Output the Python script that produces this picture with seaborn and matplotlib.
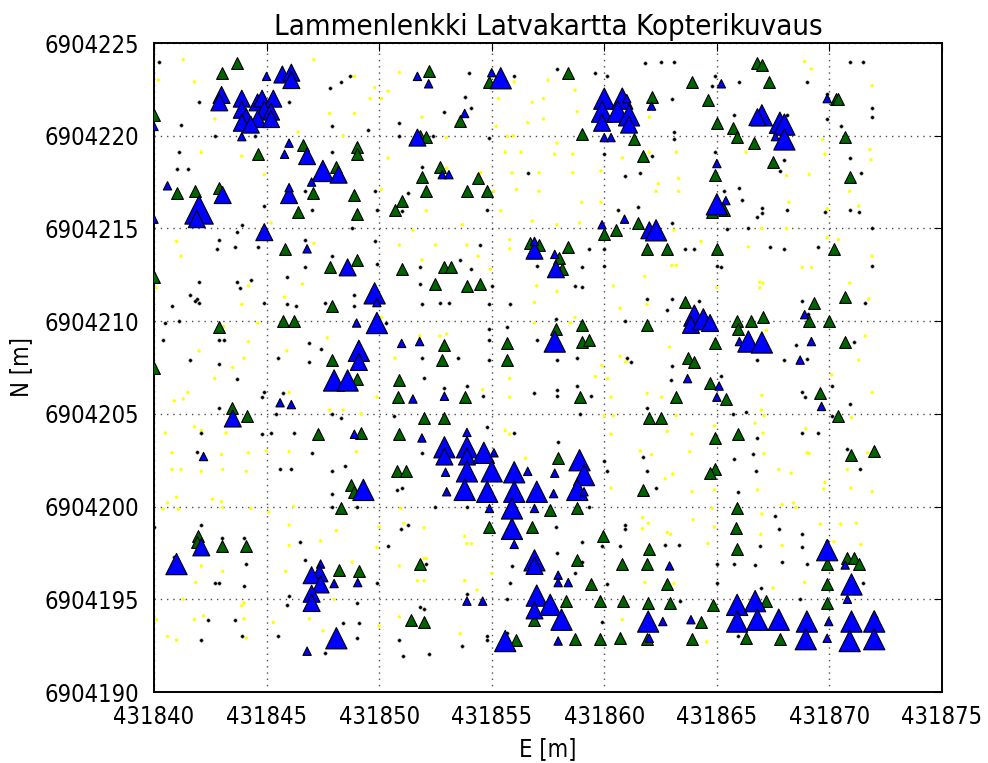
import numpy as np
import pandas as pd
import matplotlib
matplotlib.use("Agg")
import matplotlib.pyplot as plt
import matplotlib.font_manager as fm
import seaborn as sns

# ---------------- data (local offsets from the map origin) ----------------
E0 = 431840
N0 = 6904190

title = "Lammenlenkki Latvakartta Kopterikuvaus"
xlabel = "E [m]"
ylabel = "N [m]"
xticks = [431840, 431845, 431850, 431855, 431860, 431865, 431870, 431875]
yticks = [6904190, 6904195, 6904200, 6904205, 6904210, 6904215, 6904220, 6904225]

# green triangles (E offset, N offset)
green_pts = [
    (3.7,33.9),(3.0,33.4),(0.0,31.1),(4.6,29.0),(6.6,29.5),(8.1,28.3),(1.0,26.9),(1.8,27.0),(2.9,27.2),(7.05,26.9),
    (6.4,25.9),(5.8,23.9),(7.8,22.9),(0.0,22.4),(7.9,20.8),(5.75,20.0),(6.2,20.0),(2.9,19.7),(0.0,17.5),(7.9,17.9),
    (12.2,33.5),(14.9,32.9),(13.6,30.8),(11.8,30.0),(12.1,29.95),(9.0,29.4),(9.0,29.0),(12.7,28.3),(11.9,27.8),(14.4,27.7),
    (12.1,27.0),(13.9,27.0),(14.8,27.0),(8.9,26.8),(11.0,26.5),(10.7,26.0),(9.0,25.8),(16.7,24.2),(17.1,24.1),(9.0,23.3),
    (11.0,22.8),(12.9,22.9),(13.2,22.9),(12.5,22.0),(13.9,21.9),(14.5,22.0),(12.9,18.7),(12.8,17.9),(15.7,18.8),(15.7,17.9),
    (18.4,33.4),(23.9,32.9),(24.6,31.9),(22.1,32.1),(19.0,30.1),(21.3,29.8),(25.0,30.7),(25.7,30.4),(25.9,29.95),(21.7,28.9),
    (24.9,27.9),(24.8,25.9),(25.3,26.0),(21.5,25.3),(20.5,24.9),(20.0,24.7),(18.4,24.0),(21.9,23.9),(22.8,23.9),(25.0,23.9),
    (18.0,23.4),(18.1,22.8),(23.6,21.05),(19.0,19.8),(21.9,19.8),(17.85,19.6),(19.0,18.9),(19.3,19.0),(24.9,18.8),(25.9,20.0),
    (25.95,19.6),(23.7,18.0),(24.0,17.8),
    (26.8,33.9),(27.0,33.8),(27.3,32.9),(30.3,32.0),(30.4,32.0),(26.65,29.6),(30.7,29.95),(27.5,28.6),(30.9,27.8),(30.2,23.9),
    (29.3,21.0),(30.7,21.3),(26.5,20.0),(27.05,20.2),(29.1,20.0),(30.0,20.0),(30.7,18.85),
    (3.45,15.3),(4.15,14.9),(7.3,13.9),(1.97,8.4),(1.9,8.1),(3.0,7.9),(4.1,7.9),(8.2,6.6),(8.3,9.9),
    (9.0,16.9),(10.9,16.8),(10.85,15.9),(13.8,15.9),(12.0,14.8),(12.9,14.8),(9.2,13.96),(10.9,13.9),(10.8,11.9),(11.2,11.9),
    (8.75,11.15),(8.9,10.8),(14.9,8.9),(16.8,8.9),(9.1,6.5),(11.8,6.9),(11.4,3.9),(12.0,3.8),(16.1,2.8),(16.9,3.9),
    (24.7,16.65),(25.4,15.8),(23.2,15.9),(18.9,15.9),(22.0,14.8),(22.5,14.8),(24.9,13.7),(25.95,13.9),(17.95,12.6),(24.9,12.05),
    (24.7,11.8),(21.7,10.9),(17.6,9.8),(18.8,9.9),(25.9,9.9),(25.85,8.85),(25.9,7.7),(19.95,8.4),(22.0,7.7),(18.8,7.1),
    (20.8,6.9),(21.9,6.9),(19.4,5.8),(22.8,5.8),(18.3,4.9),(19.8,4.9),(20.85,4.9),(21.95,4.8),(22.9,4.8),(24.85,4.7),
    (24.3,3.8),(18.7,2.85),(19.8,2.85),(20.7,2.9),(21.9,2.85),(23.9,2.85),
    (29.6,16.1),(30.4,14.9),(30.95,12.8),(31.99,13.0),(30.8,7.2),(31.1,7.2),(31.3,6.9),(29.9,6.9),(29.9,5.8),(29.9,4.8),
    (27.2,4.9),(26.3,2.9),(27.8,2.85),
]

# blue triangles (E offset, N offset, crown size class 1..4)
blue_pts = [
    (0.0,30.5,1),(5.0,33.2,1),(5.7,33.3,2),(6.1,33.4,2),(6.1,33.0,2),(3.0,32.2,2),(2.9,31.8,2),(3.9,32.0,2),(3.9,31.4,2),(4.1,31.0,2),
    (4.6,31.8,2),(4.8,32.0,2),(5.3,32.0,2),(4.9,31.4,2),(5.2,31.3,2),(4.6,30.9,2),(5.2,30.9,2),(3.9,30.7,2),(4.3,30.6,2),(3.9,29.95,1),
    (6.0,29.6,1),(5.8,29.0,1),(6.8,28.9,2),(7.5,28.1,3),(8.2,27.9,2),(7.0,27.5,1),(6.0,26.8,2),(6.0,27.2,1),(0.6,27.3,1),(3.05,26.8,2),
    (2.0,26.0,4),(1.9,25.5,2),(0.0,25.5,1),(4.9,24.8,2),(6.8,23.9,1),(8.6,22.9,2),
    (11.7,33.2,1),(12.2,32.8,1),(15.0,33.4,1),(15.4,33.1,3),(13.8,31.2,1),(11.7,29.9,2),(12.8,27.9,1),(13.1,27.9,1),(16.9,23.8,2),(16.9,24.3,1),
    (9.8,21.5,3),(9.9,21.0,1),(9.9,19.9,3),(9.0,19.9,1),(11.0,18.8,1),(11.8,18.9,1),(9.1,18.4,3),(9.1,17.8,2),
    (20.0,32.0,3),(19.9,31.3,3),(19.9,30.7,2),(20.8,32.0,3),(20.6,31.3,3),(21.1,31.1,3),(21.1,30.6,2),(21.0,32.0,1),(22.1,31.6,1),(20.0,29.9,1),
    (20.3,29.9,1),(25.2,32.8,1),(25.0,28.5,1),(25.0,26.3,3),(25.4,26.5,1),(19.9,25.2,1),(20.9,25.5,1),(22.0,24.9,2),(22.3,24.9,3),(17.8,23.6,1),
    (17.85,22.8,2),(24.0,20.3,3),(23.85,19.8,2),(24.4,20.1,3),(24.7,19.9,2),(17.8,18.9,3),(26.0,18.9,1),
    (27.0,31.1,3),(26.8,31.0,2),(27.8,30.7,3),(28.0,30.6,3),(27.6,29.95,1),(28.0,29.8,3),(29.9,32.0,1),(28.9,20.35,1),(26.4,18.9,3),(27.0,18.85,3),
    (29.2,18.9,1),(28.7,17.9,1),
    (3.5,14.75,2),(5.6,15.6,1),(6.1,15.5,1),(2.2,12.7,1),(2.1,7.8,2),(1.0,6.9,3),(7.4,6.9,1),(7.35,6.4,2),(7.0,6.3,2),(7.4,5.8,2),
    (7.0,5.3,2),(8.0,5.85,1),(7.0,4.8,2),(8.1,2.9,3),(6.8,2.2,1),(8.0,16.8,3),(8.6,16.8,3),
    (11.5,15.8,1),(12.9,15.95,1),(8.9,13.9,1),(11.9,13.7,1),(13.9,14.0,1),(12.9,13.2,3),(12.9,12.7,2),(13.9,13.2,3),(13.9,12.7,2),(14.65,12.9,3),
    (15.1,12.9,1),(12.95,11.85,1),(13.9,11.9,3),(15.0,11.9,3),(16.0,11.85,3),(16.6,11.9,1),(13.0,10.8,1),(13.8,10.9,3),(14.8,10.8,3),(16.0,10.8,3),
    (17.0,10.8,3),(9.3,10.9,3),(14.9,9.9,1),(15.9,9.9,3),(16.9,9.9,1),(15.9,8.8,3),(16.0,7.96,1),(16.9,7.1,3),(16.9,6.8,2),(9.05,5.9,1),
    (17.0,5.2,3),(16.9,4.4,2),(13.9,4.9,1),(14.6,4.9,1),(15.6,2.75,3),
    (23.7,16.9,1),(25.1,16.5,1),(25.0,15.9,1),(18.9,12.5,3),(19.1,11.7,3),(18.8,10.9,3),(19.1,10.8,1),(17.8,11.8,1),(17.75,10.7,1),(17.95,6.3,1),
    (17.95,5.9,1),(18.4,5.9,1),(22.9,6.8,1),(17.6,4.7,3),(18.1,3.9,3),(17.95,2.75,1),(21.95,3.8,3),(22.0,2.9,1),(22.6,3.8,1),(23.85,3.9,1),
    (25.9,4.7,3),(25.9,3.8,3),
    (29.65,15.4,1),(29.9,7.65,3),(30.7,6.85,1),(30.98,5.8,3),(30.8,5.0,1),(26.7,4.9,3),(26.8,3.9,3),(27.75,3.9,3),(29.0,3.8,3),(28.95,2.85,3),
    (29.97,3.8,1),(29.9,2.9,1),(30.98,3.8,3),(30.9,2.75,3),(31.99,4.15,1),(31.99,3.8,3),(31.99,2.85,3),
]

# black dots (E offset, N offset)
black_pts = [
    (0.2,34.0),(7.8,32.6),(8.3,32.9),(8.7,33.2),(2.0,31.8),(6.0,31.8),(1.2,30.6),(7.9,30.5),(2.7,30.0),(4.5,30.0),
    (1.1,29.1),(1.0,28.2),(1.5,28.2),(7.9,29.1),(6.7,27.0),(7.0,26.0),(4.9,26.2),(3.9,25.2),(3.7,24.8),(2.9,24.4),
    (2.8,23.9),(3.6,24.0),(4.6,24.0),(6.7,24.4),(7.9,23.5),(6.7,22.9),(5.9,22.4),(2.0,22.1),(3.7,22.1),(4.3,22.2),
    (3.8,21.8),(1.6,21.4),(1.9,21.2),(1.8,21.1),(2.0,21.0),(0.8,20.8),(4.9,21.0),(5.9,20.9),(6.3,20.8),(7.6,21.0),
    (0.5,19.9),(1.1,20.0),(0.4,19.0),(2.9,19.0),(3.1,19.0),(6.9,18.8),(7.4,18.5),(1.6,17.9),(2.9,17.7),(5.5,18.0),(6.9,17.8),
    (14.0,33.4),(16.0,33.2),(13.8,32.1),(14.1,31.5),(12.9,31.3),(10.9,30.7),(9.5,30.3),(10.9,30.0),(12.4,30.0),(14.9,29.9),
    (11.9,28.3),(16.6,28.0),(9.8,27.0),(11.3,26.9),(9.9,26.0),(11.0,25.95),(14.8,26.0),(8.8,25.0),(9.8,24.3),(9.9,23.1),
    (14.5,24.1),(13.6,23.3),(11.8,22.9),(14.1,22.8),(17.0,23.0),(15.0,21.9),(11.8,22.0),(8.9,21.4),(8.9,20.8),(11.9,20.9),
    (12.7,21.0),(13.1,21.0),(14.9,20.9),(15.8,20.9),(10.3,19.9),(15.7,19.7),(14.9,19.6),(17.0,19.0),(14.9,19.0),(11.9,18.0),
    (13.5,18.0),(14.9,17.9),
    (17.9,33.6),(19.6,33.4),(20.1,33.2),(21.8,33.9),(22.5,34.0),(23.1,34.0),(24.9,33.2),(24.8,32.7),(26.0,32.9),(23.0,32.0),
    (25.75,31.1),(23.1,30.2),(23.1,29.8),(20.0,29.0),(22.1,28.9),(24.9,29.1),(20.9,27.85),(21.6,28.0),(25.3,27.0),(26.0,27.2),
    (26.1,26.55),(20.6,26.0),(21.5,26.15),(23.0,25.3),(25.45,24.97),(19.3,23.9),(20.0,23.9),(23.6,23.9),(24.0,23.9),(19.0,22.9),
    (20.0,23.0),(25.0,23.0),(25.2,22.9),(18.7,21.9),(19.0,21.85),(21.9,21.2),(23.0,21.2),(22.8,20.6),(24.2,21.1),(17.85,20.1),
    (20.9,20.0),(17.9,17.9),(18.8,18.0),(21.0,18.0),(21.2,17.8),(23.0,17.6),
    (30.9,34.0),(31.5,34.0),(29.0,32.9),(29.9,32.25),(29.9,30.9),(31.9,31.5),(31.9,31.0),(30.5,30.5),(28.1,31.1),(28.0,28.7),
    (27.8,28.1),(30.9,28.8),(31.4,28.0),(27.0,26.1),(27.0,25.85),(26.8,25.6),(28.1,26.0),(29.8,25.9),(30.9,26.0),(31.3,25.9),
    (26.4,25.0),(31.9,25.0),(27.35,24.0),(28.0,23.9),(29.5,24.0),(31.9,23.0),(28.8,21.1),(31.6,21.0),(29.05,20.4),(28.5,18.7),
    (31.1,18.9),(26.8,17.9),(28.0,17.9),(29.0,17.95),
    (3.7,16.9),(4.9,16.2),(4.8,15.9),(5.75,16.1),(2.9,15.3),(5.4,15.0),(7.9,15.0),(8.3,14.8),(2.1,13.96),(4.8,13.9),
    (5.2,13.96),(6.2,13.96),(1.9,12.96),(7.0,12.9),(5.6,12.0),(6.1,12.0),(7.9,11.9),(7.9,10.7),(8.5,12.2),(7.9,10.0),
    (0.0,8.9),(2.1,9.0),(3.0,8.3),(4.0,8.3),(6.5,8.1),(6.7,7.1),(0.9,7.3),(4.1,6.9),(2.7,5.9),(2.9,5.9),
    (4.0,5.7),(6.0,5.2),(5.9,4.7),(2.4,3.9),(3.6,3.9),(8.4,3.7),(2.1,2.8),(3.9,3.0),(5.5,3.0),(7.6,2.1),
    (12.0,16.95),(12.9,16.4),(13.9,16.5),(14.6,15.95),(16.9,16.1),(10.65,14.9),(14.8,14.3),(16.0,13.96),(11.9,12.9),(10.8,10.9),
    (11.0,11.0),(9.0,10.0),(12.5,10.0),(13.9,10.0),(10.95,8.8),(11.3,9.0),(10.4,7.9),(12.1,6.9),(15.9,6.8),(15.8,5.9),
    (9.9,5.9),(15.7,5.0),(9.0,4.8),(11.8,4.6),(12.0,4.5),(13.9,5.3),(9.1,3.7),(9.0,2.9),(10.9,2.8),(11.05,1.96),
    (12.2,2.05),(13.7,2.5),(14.8,3.0),(14.8,2.8),(15.7,3.2),
    (17.9,16.3),(17.9,15.95),(18.8,16.5),(19.4,15.95),(22.95,16.8),(25.2,17.05),(18.9,15.0),(21.9,15.3),(25.7,15.0),(17.95,13.5),
    (19.97,12.45),(20.1,11.9),(21.7,12.7),(21.9,11.9),(22.3,11.0),(25.75,12.55),(25.95,10.8),(19.3,10.0),(17.85,8.9),(20.9,9.0),
    (20.9,8.8),(19.0,8.1),(19.9,7.9),(20.7,7.9),(22.7,7.95),(23.3,7.95),(17.9,7.5),(19.0,7.0),(18.7,6.4),(25.0,6.9),
    (25.75,6.9),(20.1,5.85),(25.0,5.9),(23.35,4.9),(19.9,3.8),(25.95,3.0),
    (28.8,16.2),(28.9,15.9),(30.1,16.5),(30.9,15.55),(26.3,15.1),(30.1,14.9),(26.8,13.7),(28.8,13.95),(29.5,13.95),(26.6,12.86),
    (30.8,13.1),(31.35,12.0),(26.75,11.9),(27.6,9.5),(27.75,8.8),(28.8,8.5),(28.8,7.8),(26.9,7.9),(29.9,8.15),(26.7,6.85),
    (27.9,7.0),(29.0,6.9),(31.5,5.9),(26.95,5.6),(28.7,5.0),
]

# yellow dots (E offset, N offset)
yellow_pts = [
    (1.3,34.1),(7.1,34.1),(0.2,33.0),(1.8,32.9),(2.7,30.9),(7.8,31.2),(6.4,30.2),(8.4,30.0),(2.1,29.1),(3.9,28.9),
    (4.9,27.9),(5.2,25.3),(1.0,24.3),(1.2,23.5),(7.1,24.2),(0.1,21.8),(4.2,21.9),(6.6,22.0),(5.8,21.3),(3.9,20.9),
    (3.1,19.7),(4.6,19.9),(4.2,18.9),(2.0,18.4),(5.9,18.4),(7.7,19.1),(4.0,18.0),(3.5,17.5),
    (8.9,33.2),(10.9,33.4),(9.8,32.6),(10.4,32.4),(9.6,32.0),(10.1,32.0),(8.9,31.2),(11.9,31.0),(15.3,32.0),(16.0,32.9),
    (16.8,31.8),(17.3,32.0),(16.6,30.7),(17.3,30.9),(15.2,30.5),(15.7,29.95),(15.96,30.0),(13.0,29.9),(10.4,28.8),(15.6,29.1),
    (16.3,29.1),(13.0,28.25),(14.5,28.0),(15.9,28.0),(17.1,28.0),(16.1,27.1),(17.1,27.0),(15.1,27.0),(10.1,27.1),(12.1,25.95),
    (15.4,25.95),(16.8,25.4),(13.7,25.2),(11.5,24.9),(15.8,24.4),(15.8,23.9),(10.9,24.1),(12.5,24.1),(13.9,24.1),(14.4,23.5),
    (11.9,23.3),(14.95,22.8),(17.0,21.9),(16.9,21.0),(10.1,20.2),(16.9,19.9),(11.8,19.2),(12.7,19.2),(13.0,19.3),(10.7,18.0),
    (17.5,33.0),(18.7,32.45),(18.8,31.3),(22.0,31.0),(17.9,29.6),(17.8,29.0),(18.6,29.0),(19.85,28.1),(20.8,28.8),(18.6,28.0),
    (22.0,29.1),(23.2,29.1),(23.3,27.7),(22.4,27.4),(22.3,27.0),(23.3,27.0),(19.0,26.4),(19.85,26.4),(17.9,25.2),(18.9,25.3),
    (23.1,24.9),(24.3,24.3),(23.0,23.0),(23.2,23.0),(21.8,22.4),(20.4,21.9),(17.9,21.6),(25.0,21.8),(21.9,20.9),(20.7,20.7),
    (18.5,19.9),(18.7,20.2),(22.9,18.6),(20.7,18.1),(20.96,17.8),(19.9,17.6),
    (28.9,34.0),(29.2,33.6),(31.9,32.7),(26.3,29.1),(29.7,29.8),(29.8,29.0),(31.8,29.25),(31.85,28.7),(28.1,27.85),(29.1,27.9),
    (30.9,27.0),(28.2,26.4),(31.3,26.2),(29.9,26.05),(27.0,25.0),(28.1,25.0),(29.9,24.5),(30.4,24.4),(26.4,24.0),(31.9,23.5),
    (28.8,22.9),(29.2,22.9),(26.9,22.1),(27.05,22.05),(26.9,21.8),(30.9,22.05),(31.75,21.2),(26.5,19.7),(27.2,19.5),(31.6,19.2),
    (31.3,17.9),
    (2.7,16.9),(1.5,16.15),(0.9,15.7),(1.3,15.8),(6.0,16.15),(7.8,15.2),(8.4,15.2),(1.8,14.3),(2.1,14.1),(0.5,13.96),
    (3.2,13.96),(0.8,12.9),(3.0,12.8),(4.2,12.9),(5.0,13.0),(6.0,12.96),(0.8,12.0),(1.2,12.0),(2.1,11.9),(3.05,12.0),
    (4.1,11.9),(1.0,10.5),(0.6,10.2),(2.6,10.4),(3.0,10.25),(0.4,9.86),(1.1,9.86),(3.05,9.95),(4.3,9.9),(5.1,9.7),
    (6.2,10.0),(6.0,9.0),(6.0,7.9),(7.4,8.15),(8.1,8.7),(2.1,6.8),(3.05,6.5),(1.85,5.9),(5.85,6.5),(3.9,4.65),
    (4.0,4.8),(1.3,5.0),(8.0,5.0),(0.1,3.9),(1.8,3.9),(2.2,4.1),(4.0,3.95),(5.3,3.75),(6.9,3.95),(7.5,3.3),
    (0.6,3.0),(1.0,2.8),(4.1,2.9),
    (9.9,15.9),(14.6,16.3),(15.8,16.9),(15.8,15.9),(9.2,15.0),(15.6,14.1),(15.8,13.9),(9.0,12.96),(16.5,12.6),(10.95,9.9),
    (10.0,8.9),(11.1,9.1),(12.0,8.85),(13.8,8.4),(13.9,8.0),(14.1,8.0),(9.9,7.8),(8.8,7.0),(10.9,6.8),(12.0,7.2),
    (12.1,7.2),(11.7,6.0),(12.0,6.0),(13.8,6.0),(14.35,5.5),(15.0,6.4),(10.9,4.05),(10.0,3.55),(13.6,3.15),
    (19.6,17.0),(20.15,16.9),(20.3,15.9),(21.9,16.1),(22.55,15.9),(23.2,14.9),(20.4,14.9),(20.0,14.9),(24.9,14.35),(20.3,13.9),
    (22.8,14.05),(23.9,13.9),(21.6,13.0),(22.1,12.8),(23.8,12.96),(23.05,11.75),(22.7,11.5),(20.3,11.0),(23.9,10.8),(24.9,10.9),
    (24.8,9.9),(21.7,9.4),(21.96,9.1),(21.7,8.8),(23.95,9.3),(22.8,8.6),(22.95,8.5),(24.9,8.9),(24.6,8.0),(21.8,5.9),
    (23.1,5.85),(20.8,3.9),(24.55,2.7),
    (30.1,17.1),(31.9,16.15),(27.0,16.0),(26.98,15.2),(27.1,14.9),(30.98,14.8),(26.7,14.5),(27.05,13.96),(28.95,14.2),(27.1,12.86),
    (29.0,12.9),(29.1,12.86),(31.7,12.9),(27.75,12.0),(28.3,11.8),(30.8,12.0),(26.8,10.9),(29.8,11.3),(29.75,10.95),(30.95,11.0),
    (31.9,10.8),(27.9,10.1),(28.4,10.2),(28.5,9.95),(27.0,9.6),(29.6,9.05),(30.5,9.05),(31.2,9.1),(26.95,8.5),(27.9,7.9),
    (30.2,8.1),(31.4,7.95),(28.9,5.9),(27.5,5.6),
]

# ---------------- frames ----------------
def to_df(pts, cols):
    d = pd.DataFrame(pts, columns=cols)
    d["E"] = E0 + d["dE"]
    d["N"] = N0 + d["dN"]
    return d

df_green = to_df(green_pts, ["dE", "dN"])
df_blue = to_df(blue_pts, ["dE", "dN", "crown"])
df_black = to_df(black_pts, ["dE", "dN"])
df_yellow = to_df(yellow_pts, ["dE", "dN"])

# ---------------- style / fonts ----------------
sns.set_style("white")
avail = {(f.name, f.stretch) for f in fm.fontManager.ttflist}
names = {f.name for f in fm.fontManager.ttflist}
if ("DejaVu Sans", "condensed") in avail:
    fam, stretch, fs = "DejaVu Sans", "condensed", 17
elif "Liberation Sans Narrow" in names:
    fam, stretch, fs = "Liberation Sans Narrow", "normal", 20
else:
    fam, stretch, fs = "DejaVu Sans", "normal", 15
plt.rcParams["font.family"] = [fam, "DejaVu Sans"]
plt.rcParams["font.stretch"] = stretch
for key in ("text.color", "axes.labelcolor", "xtick.color", "ytick.color"):
    plt.rcParams[key] = "black"

fig = plt.figure(figsize=(9.88, 7.63), dpi=100)
ax = fig.add_axes([154 / 988, 71 / 763, 788 / 988, 649 / 763])

sns.scatterplot(data=df_yellow, x="E", y="N", ax=ax, color="#ffff00", marker="o",
                s=6, linewidth=0, edgecolor="none", zorder=2, legend=False)
sns.scatterplot(data=df_black, x="E", y="N", ax=ax, color="black", marker="o",
                s=6, linewidth=0.3, edgecolor="0.4", zorder=2, legend=False)
sns.scatterplot(data=df_green, x="E", y="N", ax=ax, color="#006400", marker="^",
                s=72, linewidth=0.8, edgecolor="black", zorder=3, legend=False)
sns.scatterplot(data=df_blue, x="E", y="N", size="crown",
                sizes={1: 36, 2: 150, 3: 235, 4: 420}, ax=ax, color="#0000ff", marker="^",
                linewidth=0.8, edgecolor="black", zorder=4, legend=False)

ax.set_xlim(xticks[0], xticks[-1])
ax.set_ylim(yticks[0], yticks[-1])
ax.set_xticks(xticks)
ax.set_yticks(yticks)
ax.ticklabel_format(useOffset=False, style="plain")
ax.set_xticklabels([str(v) for v in xticks])
ax.set_yticklabels([str(v) for v in yticks])
ax.tick_params(direction="in", length=6, width=0.8, top=True, right=True,
               labelsize=fs, color="black", pad=9)
ax.tick_params(axis="y", pad=11)
ax.set_axisbelow(True)
ax.grid(True, color="0.3", linestyle=(0, (1, 3.5)), linewidth=1.0)
for sp in ax.spines.values():
    sp.set_visible(True)
    sp.set_color("black")
    sp.set_linewidth(1.4)

ax.set_title(title, fontsize=fs * 1.24, pad=6)
ax.set_xlabel(xlabel, fontsize=fs, labelpad=6)
ax.set_ylabel(ylabel, fontsize=fs, labelpad=8)

fig.savefig("out.png", dpi=100, facecolor="white")
